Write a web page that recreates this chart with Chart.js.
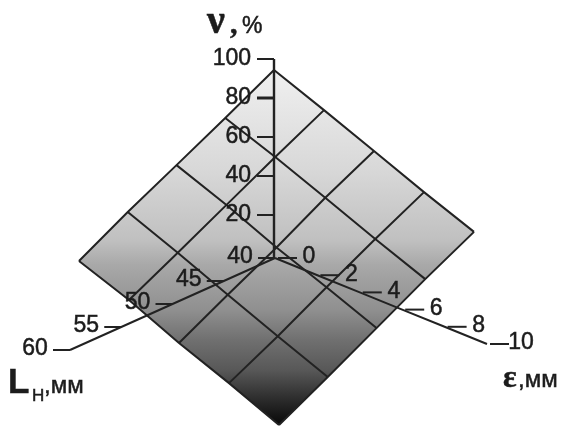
<!DOCTYPE html>
<html lang="ru">
<head>
  <meta charset="UTF-8">
  <title>v(L, e) surface</title>
  <script src="https://cdn.jsdelivr.net/npm/chart.js"></script>
  <style>
    html, body { margin: 0; background: #fff; }
    canvas { display: block; }
  </style>
</head>
<body>
  <canvas id="chart" width="565" height="427"></canvas>
  <script>
    // values
    var lengthTicks = [40, 45, 50, 55, 60];
    var strainTicks = [0, 2, 4, 6, 8, 10];
    var nuTicks = [0, 20, 40, 60, 80, 100];

    // surface nodes: one row per length, one column per strain
    var gridLengths = [40, 45, 50, 55, 60];
    var gridStrains = [0, 2.5, 5, 7.5, 10];
    var nu40 = [0, 13.5, 27.3, 41.1, 54.4];
    var nu45 = [11.8, 25, 38.8, 52.4, 65.6];
    var nu50 = [23.1, 36.7, 50, 64, 77.2];
    var nu55 = [35.2, 48.5, 62, 75.5, 88.7];
    var nu60 = [46.2, 60, 73.2, 86.5, 100];
    var surface = [nu40, nu45, nu50, nu55, nu60];

    var ink = '#222222';
    var font = '23px "Liberation Sans", Arial, sans-serif';

    // the picture is a flat projection, so hidden 1:1 scales carry all of it
    function axisPoint(len, strain) {
      return { x: 275 - 10.25 * (len - 40) + 21.2 * strain, y: 258 + 4.6 * (len - 40) + 8.6 * strain };
    }
    function nuPoint(nu) {
      return { x: 274, y: 254 - 1.95 * nu };
    }
    function surfacePoint(i, j) {
      return {
        x: 279 - 10 * (gridLengths[i] - 40) + 19.5 * gridStrains[j],
        y: 425 - 3.55 * surface[i][j]
      };
    }

    function lineSet(points, width) {
      return { data: points, showLine: true, borderColor: ink, borderWidth: width || 2, pointRadius: 0, fill: false };
    }

    var ctx = document.getElementById('chart').getContext('2d');

    // grey goes with height on the surface
    var shade = ctx.createLinearGradient(0, 425, 0, 70);
    shade.addColorStop(0, '#080808');
    shade.addColorStop(0.08, '#303030');
    shade.addColorStop(0.155, '#585858');
    shade.addColorStop(0.24, '#707070');
    shade.addColorStop(0.325, '#909090');
    shade.addColorStop(0.45, '#a8a8a8');
    shade.addColorStop(0.52, '#c0c0c0');
    shade.addColorStop(0.72, '#d8d8d8');
    shade.addColorStop(1, '#f0f0f0');

    var datasets = [];
    var labels = [];

    // axes and tick stubs
    datasets.push(lineSet(lengthTicks.map(function(t) { return axisPoint(t, 0); })));
    datasets.push(lineSet(strainTicks.map(function(t) { return axisPoint(40, t); })));
    datasets.push(lineSet([nuPoint(-2), nuPoint(100)], 2.4));

    lengthTicks.forEach(function(t) {
      var p = axisPoint(t, 0);
      datasets.push(lineSet([{ x: p.x - 17, y: p.y }, p]));
      labels.push({ text: String(t), x: p.x - 35, y: p.y - 1, align: 'center' });
    });
    strainTicks.forEach(function(t) {
      var p = axisPoint(40, t);
      datasets.push(lineSet([{ x: p.x + 3, y: p.y }, { x: p.x + 22, y: p.y }]));
      labels.push({ text: String(t), x: p.x + 34, y: p.y - 1, align: 'center' });
    });
    nuTicks.forEach(function(t) {
      if (t === 0) return;
      var p = nuPoint(t);
      datasets.push(lineSet([{ x: p.x - 17, y: p.y }, p], t === 80 ? 3 : 2));
      labels.push({ text: String(t), x: p.x - 23, y: p.y, align: 'right' });
    });

    // mesh
    surface.forEach(function(row, i) {
      datasets.push(lineSet(row.map(function(v, j) { return surfacePoint(i, j); })));
    });
    gridStrains.forEach(function(s, j) {
      datasets.push(lineSet(surface.map(function(row, i) { return surfacePoint(i, j); })));
    });

    // filled diamond, between the upper and the lower outline
    var upper = [surfacePoint(4, 0), surfacePoint(4, 1), surfacePoint(4, 2), surfacePoint(4, 3), surfacePoint(4, 4),
                 surfacePoint(3, 4), surfacePoint(2, 4), surfacePoint(1, 4), surfacePoint(0, 4)];
    var lower = [surfacePoint(4, 0), surfacePoint(3, 0), surfacePoint(2, 0), surfacePoint(1, 0), surfacePoint(0, 0),
                 surfacePoint(0, 1), surfacePoint(0, 2), surfacePoint(0, 3), surfacePoint(0, 4)];
    datasets.push({ data: upper, showLine: true, borderWidth: 0, pointRadius: 0, backgroundColor: shade, fill: '+1' });
    datasets.push({ data: lower, showLine: true, borderWidth: 0, pointRadius: 0, fill: false });

    function put(c, text, x, y, f, align) {
      c.font = f;
      c.textAlign = align || 'left';
      c.fillText(text, x, y);
      c.strokeText(text, x, y);
    }

    var textPlugin = {
      id: 'texts',
      afterDatasetsDraw: function(chart) {
        var c = chart.ctx;
        c.save();
        c.fillStyle = '#1c1c1c';
        c.strokeStyle = '#1c1c1c';
        c.lineWidth = 0.5;
        c.textBaseline = 'middle';
        labels.forEach(function(l) { put(c, l.text, l.x, l.y, font, l.align); });
        c.textBaseline = 'alphabetic';
        put(c, 'ν', 207, 33, 'bold 40px "Liberation Serif", serif');
        put(c, ',', 230, 33, 'bold 30px "Liberation Serif", serif');
        put(c, '%', 242, 33, '23px "Liberation Sans", Arial, sans-serif');
        put(c, 'L', 8, 393, 'bold 35px "Liberation Sans", Arial, sans-serif');
        put(c, 'Н', 32, 401, '17px "Liberation Sans", Arial, sans-serif');
        put(c, ',мм', 44, 393, '24px "Liberation Sans", Arial, sans-serif');
        put(c, 'ε', 503, 387, 'bold 32px "Liberation Serif", serif');
        put(c, ',мм', 518, 387, '24px "Liberation Sans", Arial, sans-serif');
        c.restore();
      }
    };

    new Chart(ctx, {
      type: 'scatter',
      data: { datasets: datasets },
      plugins: [textPlugin],
      options: {
        responsive: false,
        animation: false,
        layout: { padding: 0 },
        plugins: { legend: { display: false }, tooltip: { enabled: false } },
        scales: {
          x: { display: false, min: 0, max: 565 },
          y: { display: false, min: 0, max: 427, reverse: true }
        }
      }
    });
  </script>
</body>
</html>
